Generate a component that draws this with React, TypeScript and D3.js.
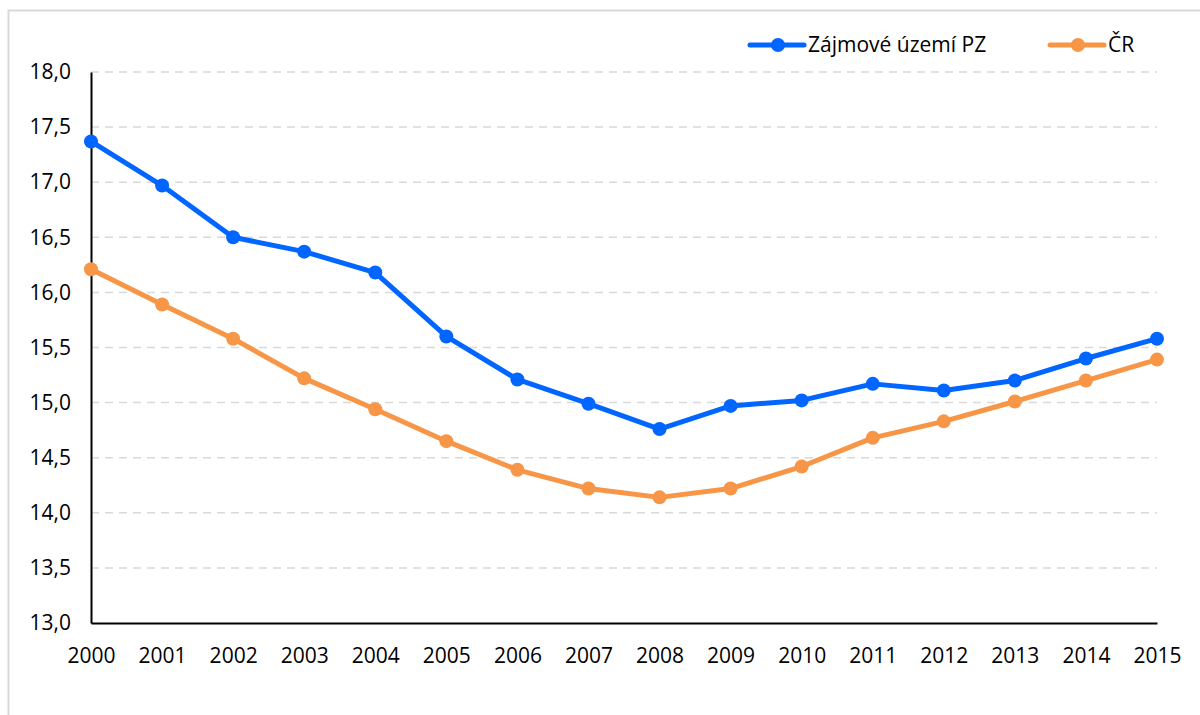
import * as d3 from "d3";
import { useEffect, useRef } from "react";

const years = ["2000","2001","2002","2003","2004","2005","2006","2007","2008","2009","2010","2011","2012","2013","2014","2015"];
const pzValues = [17.37,16.97,16.50,16.37,16.18,15.60,15.21,14.99,14.76,14.97,15.02,15.17,15.11,15.20,15.40,15.58];
const crValues = [16.21,15.89,15.58,15.22,14.94,14.65,14.39,14.22,14.14,14.22,14.42,14.68,14.83,15.01,15.20,15.39];
const yTicks = [13,13.5,14,14.5,15,15.5,16,16.5,17,17.5,18];
const seriesNames = ["Zájmové území PZ","ČR"];

const App = () => {
  const svgRef = useRef<SVGSVGElement>(null);

  useEffect(() => {
    const svg = d3.select(svgRef.current);
    svg.selectAll("*").remove();
    const font = "Open Sans, Noto Sans, sans-serif";
    const fs = 21;

    // outer border
    svg.append("rect").attr("x", 8.5).attr("y", 10.5).attr("width", 1200).attr("height", 720)
      .attr("fill", "white").attr("stroke", "#d9d9d9").attr("stroke-width", 2);

    const x = d3.scalePoint().domain(years).range([91, 1157]);
    const y = d3.scaleLinear().domain([13, 18]).range([623, 72]);

    // gridlines
    svg.append("g").selectAll("line").data(yTicks.filter(t => t > 13)).join("line")
      .attr("x1", 91).attr("x2", 1157)
      .attr("y1", d => y(d)).attr("y2", d => y(d))
      .attr("stroke", "#d9d9d9").attr("stroke-width", 1.5).attr("stroke-dasharray", "8,6");

    // axes
    const yAxis = d3.axisLeft(y).tickValues(yTicks).tickSize(0).tickPadding(20)
      .tickFormat(d => d3.format(".1f")(d as number).replace(".", ","));
    const gy = svg.append("g").attr("transform", "translate(91,0)").call(yAxis);
    gy.select(".domain").attr("stroke", "#000").attr("stroke-width", 2);
    gy.selectAll("text").attr("font-size", fs).attr("font-family", font).attr("fill", "#000");

    const xAxis = d3.axisBottom(x).tickSize(0).tickPadding(25);
    const gx = svg.append("g").attr("transform", "translate(0,623)").call(xAxis);
    gx.select(".domain").attr("stroke", "#000").attr("stroke-width", 2);
    gx.selectAll("text").attr("font-size", fs).attr("font-family", font).attr("fill", "#000");

    const colors = ["#0066ff", "#f79646"];
    const series = [pzValues, crValues];
    const line = d3.line<number>().x((_, i) => x(years[i])!).y(d => y(d));

    [1, 0].forEach(s => {
      const g = svg.append("g");
      g.append("path").datum(series[s]).attr("d", line).attr("fill", "none")
        .attr("stroke", colors[s]).attr("stroke-width", 5).attr("stroke-linejoin", "round");
      g.selectAll("circle").data(series[s]).join("circle")
        .attr("cx", (_, i) => x(years[i])!).attr("cy", d => y(d)).attr("r", 7)
        .attr("fill", colors[s]);
    });

    // legend
    const legendX = [750, 1050];
    seriesNames.forEach((name, i) => {
      const g = svg.append("g").attr("transform", `translate(${legendX[i]},45)`);
      g.append("line").attr("x1", 0).attr("x2", 54).attr("stroke", colors[i])
        .attr("stroke-width", 5).attr("stroke-linecap", "round");
      g.append("circle").attr("cx", 28).attr("r", 7).attr("fill", colors[i]);
      g.append("text").attr("x", 58).attr("dy", "0.35em").attr("font-size", fs)
        .attr("font-family", font).attr("fill", "#000").text(name);
    });
  }, []);

  return <svg ref={svgRef} width={1200} height={715} style={{ position: "absolute", left: 0, top: 0 }} />;
};

export default App;
